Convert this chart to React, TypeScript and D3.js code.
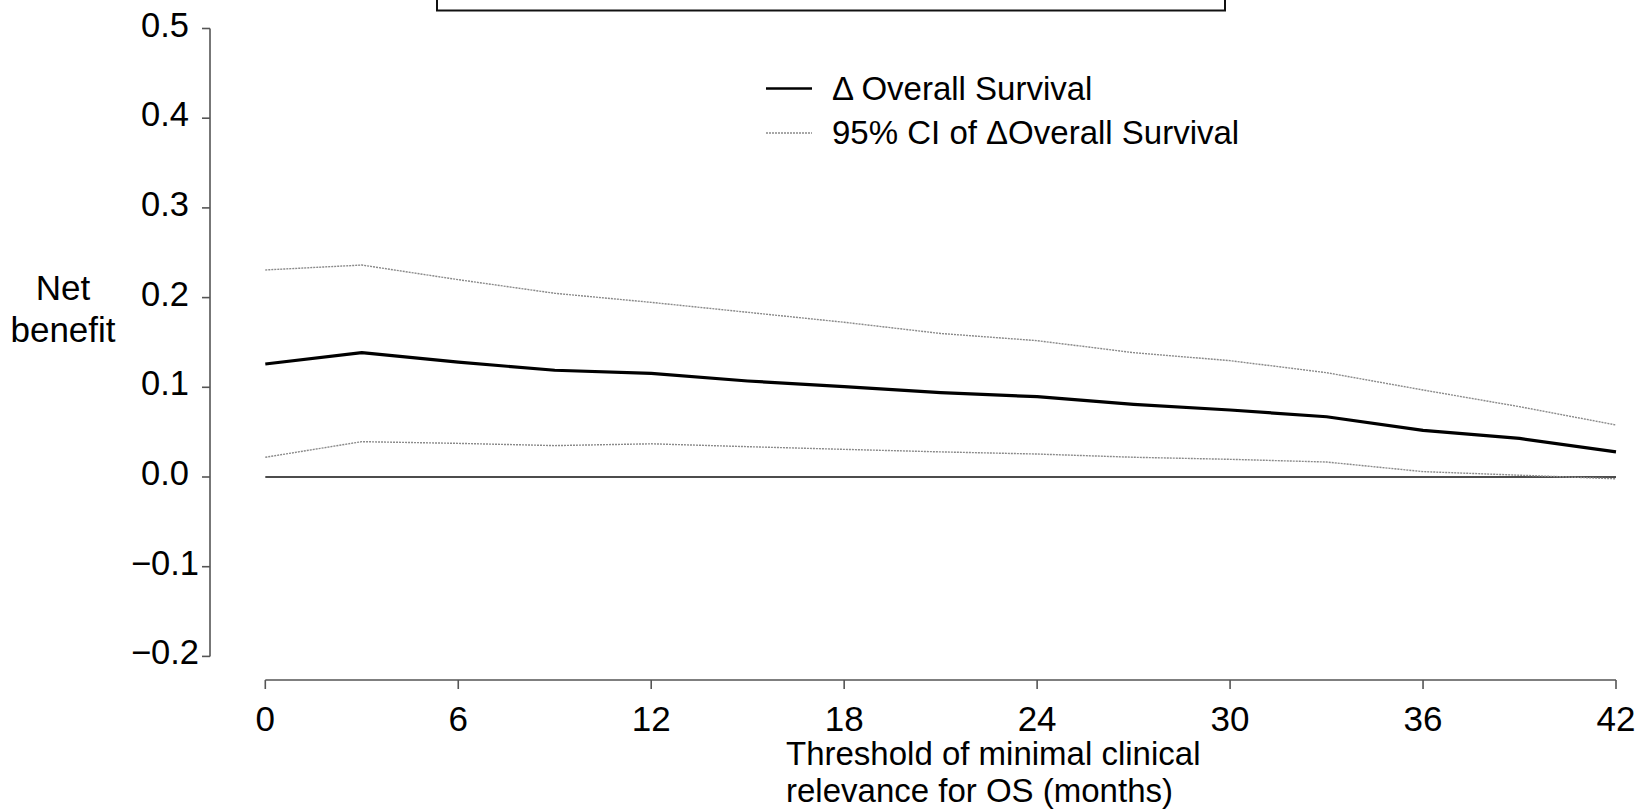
import React from "react";
import * as d3 from "d3";

const months = [0, 3, 6, 9, 12, 15, 18, 21, 24, 27, 30, 33, 36, 39, 42];
const deltaOS = [0.126, 0.1386, 0.128, 0.119, 0.1156, 0.107, 0.1007, 0.094, 0.0895, 0.081, 0.0747, 0.0672, 0.052, 0.043, 0.028];
const ciUpper = [0.2308, 0.2363, 0.22, 0.2048, 0.1947, 0.1836, 0.1725, 0.16, 0.152, 0.1386, 0.1297, 0.1163, 0.097, 0.0784, 0.058];
const ciLower = [0.022, 0.0394, 0.0375, 0.035, 0.037, 0.0338, 0.0308, 0.028, 0.0256, 0.022, 0.0197, 0.0167, 0.006, 0.002, -0.002];
const xTicks = [0, 6, 12, 18, 24, 30, 36, 42];
const yTicks = [0.5, 0.4, 0.3, 0.2, 0.1, 0.0, -0.1, -0.2];
const legendLabels = ["\u0394 Overall Survival", "95% CI of \u0394Overall Survival"];
const yTitle = ["Net", "benefit"];
const xTitle = ["Threshold of minimal clinical", "relevance for OS (months)"];

const W = 1652;
const H = 809;
const FONT = "'Liberation Sans', Arial, Helvetica, sans-serif";

export default function App() {
  const x = d3.scaleLinear().domain([0, 42]).range([265.3, 1616]);
  const y = d3.scaleLinear().domain([0, 0.5]).range([477, 28.5]);
  const line = d3
    .line<[number, number]>()
    .x((d) => x(d[0]))
    .y((d) => y(d[1]));
  const toPts = (vals: number[]) => months.map((m, i) => [m, vals[i]] as [number, number]);

  const axisX = 210;
  const axisY = 680;
  const fmt = (v: number) => (v < 0 ? "\u2212" + Math.abs(v).toFixed(1) : v.toFixed(1));

  return (
    <svg
      width={W}
      height={H}
      style={{ position: "absolute", left: 0, top: 0, background: "#fff" }}
      fontFamily={FONT}
    >
      <rect x={0} y={0} width={W} height={H} fill="#fff" />
      {/* top box (cut off) */}
      <rect x={437} y={-40} width={788} height={50.5} fill="none" stroke="#111" strokeWidth={2} />

      {/* y axis */}
      <line x1={axisX} x2={axisX} y1={y(0.5)} y2={y(-0.2)} stroke="#555" strokeWidth={1.6} />
      {yTicks.map((t) => (
        <g key={t}>
          <line x1={axisX - 8} x2={axisX} y1={y(t)} y2={y(t)} stroke="#555" strokeWidth={1.6} />
          <text x={165} y={y(t) + 8} textAnchor="middle" fontSize={34.5} fill="#000">
            {fmt(t)}
          </text>
        </g>
      ))}
      {yTitle.map((s, i) => (
        <text key={s} x={63} y={300 + i * 42} textAnchor="middle" fontSize={35} fill="#000">
          {s}
        </text>
      ))}

      {/* x axis */}
      <line x1={x(0)} x2={x(42)} y1={axisY} y2={axisY} stroke="#555" strokeWidth={1.6} />
      {xTicks.map((t) => (
        <g key={t}>
          <line x1={x(t)} x2={x(t)} y1={axisY} y2={axisY + 9} stroke="#555" strokeWidth={1.6} />
          <text x={x(t)} y={731} textAnchor="middle" fontSize={35} fill="#000">
            {t}
          </text>
        </g>
      ))}
      {xTitle.map((s, i) => (
        <text key={s} x={786} y={765 + i * 37} textAnchor="start" fontSize={33} fill="#000">
          {s}
        </text>
      ))}

      {/* zero reference line */}
      <line x1={x(0)} x2={x(42)} y1={y(0)} y2={y(0)} stroke="#111" strokeWidth={1.6} />

      {/* CI lines */}
      <path d={line(toPts(ciUpper)) || ""} fill="none" stroke="#8a8a8a" strokeWidth={1.4} strokeDasharray="2,1" />
      <path d={line(toPts(ciLower)) || ""} fill="none" stroke="#8a8a8a" strokeWidth={1.4} strokeDasharray="2,1" />
      {/* main line */}
      <path d={line(toPts(deltaOS)) || ""} fill="none" stroke="#000" strokeWidth={3.2} strokeLinejoin="round" />

      {/* legend */}
      <line x1={766} x2={812} y1={88.5} y2={88.5} stroke="#000" strokeWidth={2.6} />
      <text x={832} y={99.5} fontSize={33} fill="#000">{legendLabels[0]}</text>
      <line x1={766} x2={812} y1={133} y2={133} stroke="#8a8a8a" strokeWidth={1.4} strokeDasharray="2,1" />
      <text x={832} y={144} fontSize={33} fill="#000">{legendLabels[1]}</text>
    </svg>
  );
}
